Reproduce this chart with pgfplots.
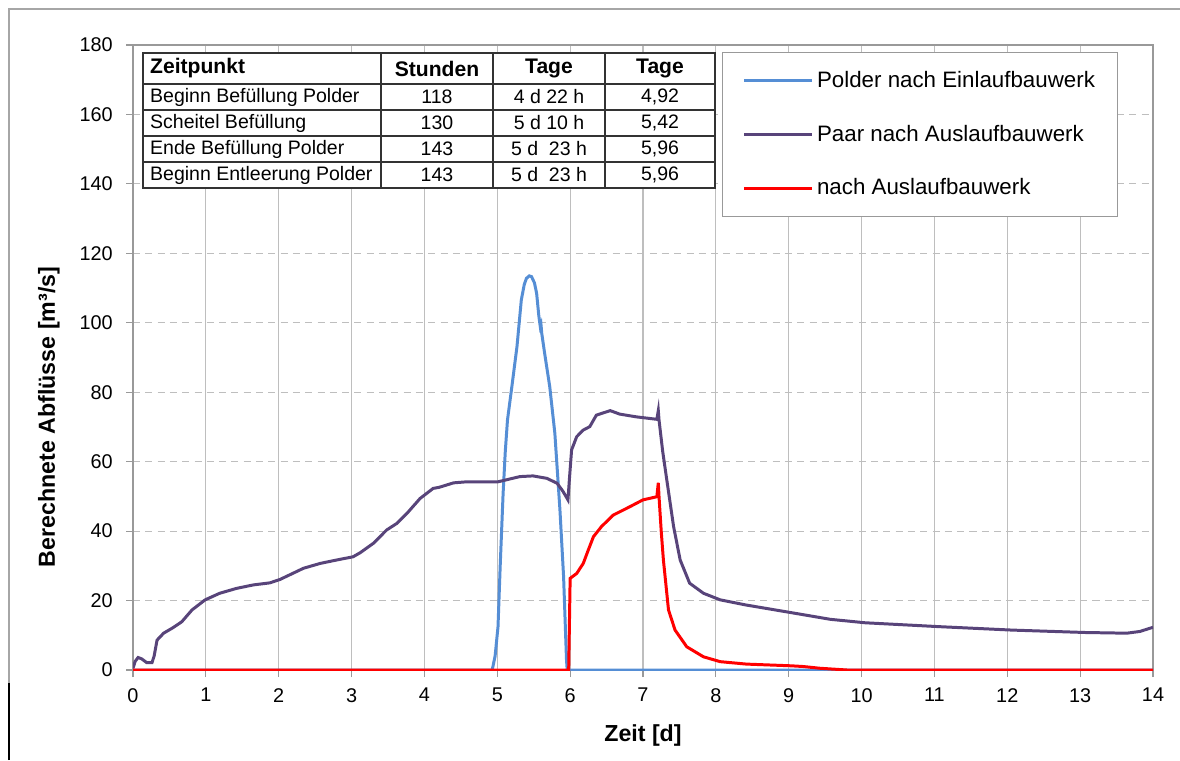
\documentclass[border=0pt]{standalone}
\usepackage{pgfplots}
\pgfplotsset{compat=1.18}
\usepackage{fontspec}
\setmainfont{Liberation Sans}
\definecolor{cblue}{RGB}{85,142,213}
\definecolor{cpurple}{RGB}{88,68,122}
\definecolor{cred}{RGB}{255,0,0}
\definecolor{cgrid}{RGB}{190,190,190}
\begin{document}
\begin{tikzpicture}
\useasboundingbox (0,0) rectangle (23.6,15.2);
\fill[white] (0,0) rectangle (23.6,15.2);
\draw[gray!70, line width=0.6pt] (0.18,1.54) -- (0.18,15.02) -- (23.6,15.02);
\draw[black, line width=1pt] (0.18,0) -- (0.18,1.54);
\begin{axis}[
  at={(2.66cm,1.8cm)}, anchor=south west,
  scale only axis, width=20.4cm, height=12.5cm,
  xmin=0, xmax=14, ymin=0, ymax=180,
  xtick={0,1,...,14}, ytick={0,20,...,180},
  xmajorgrids, ymajorgrids,
  x grid style={cgrid, line width=0.6pt},
  y grid style={cgrid, line width=0.6pt, dash pattern=on 4pt off 3pt},
  axis line style={gray!80, line width=0.6pt},
  tick style={gray!80, line width=0.6pt},
  tick align=outside, major tick length=0.14cm,
  xtick pos=bottom, ytick pos=left,
  ticklabel style={font=\fontsize{11.3}{13}\selectfont},
  yticklabel style={xshift=-0.14cm},
  xticklabel style={yshift=-0.1cm},
  /pgf/number format/assume math mode=true,
  xlabel={Zeit [d]}, ylabel={Berechnete Abflüsse [m³/s]},
  label style={font=\bfseries\fontsize{13.2}{15}\selectfont},
  xlabel style={at={(axis description cs:0.5,-0.104)}, anchor=center},
  ylabel style={at={(axis description cs:-0.0824,0.405)}, anchor=center},
  legend cell align=left,
  legend image code/.code={\path (0cm,0cm) -- (0.7cm,0cm); \draw[#1] (0.7cm,0cm) -- (1.36cm,0cm);},
  legend style={at={(axis description cs:0.5775,0.9888)}, anchor=north west,
    draw=gray!80, line width=0.6pt, fill=white, inner xsep=0.4cm, inner ysep=0.3cm,
    row sep=0.56cm, font=\fontsize{12.7}{15}\selectfont},
]
\addplot[cblue, line width=1.7pt] coordinates {
(0,0)(4.93,0)(4.97,4)(5.01,12.5)(5.04,30)(5.08,50.9)(5.11,63)(5.14,72)(5.20,81.6)(5.27,93.1)(5.33,106.6)(5.37,111)(5.40,112.8)(5.44,113.5)(5.47,113.3)(5.51,111.5)(5.54,108.5)(5.57,102)(5.59,98.9)(5.60,99.5)(5.61,97)(5.65,91.2)(5.72,81.6)(5.79,68.2)(5.86,46.1)(5.91,26.9)(5.95,2.9)(5.96,0)(14,0)};
\addlegendentry{\makebox[5.54cm][l]{Polder nach Einlaufbauwerk}}
\addplot[cpurple, line width=1.7pt] coordinates {
(0,0.5)(0.03,2.5)(0.07,3.6)(0.12,3.2)(0.19,2.1)(0.26,2.1)(0.29,4)(0.33,8.6)(0.42,10.6)(0.55,12.2)(0.67,13.9)(0.81,17.3)(0.99,20.2)(1.19,22.1)(1.42,23.5)(1.65,24.5)(1.88,25.1)(2.02,26.1)(2.34,29.3)(2.57,30.7)(2.80,31.7)(3.02,32.6)(3.12,33.8)(3.30,36.5)(3.48,40.3)(3.62,42.2)(3.76,45.1)(3.94,49.4)(4.12,52.3)(4.20,52.6)(4.40,53.9)(4.58,54.2)(5.01,54.2)(5.31,55.7)(5.49,55.9)(5.68,55.2)(5.82,53.8)(5.90,51.5)(5.97,49.0)(5.99,55)(6.02,63.4)(6.09,67.2)(6.18,69.1)(6.27,70.1)(6.36,73.4)(6.55,74.7)(6.68,73.7)(6.91,72.9)(7.19,72.2)(7.21,74.7)(7.22,72)(7.27,63)(7.32,55.7)(7.42,41.3)(7.51,31.7)(7.64,25.0)(7.83,22.1)(8.06,20.2)(8.42,18.7)(9.04,16.5)(9.57,14.6)(10.05,13.6)(11.05,12.5)(12.06,11.5)(13.07,10.8)(13.64,10.6)(13.82,11.1)(14.0,12.3)};
\addlegendentry{\makebox[5.54cm][l]{Paar nach Auslaufbauwerk}}
\addplot[cred, line width=1.7pt] coordinates {
(0,0)(5.98,0)(6.0,26.4)(6.09,27.8)(6.18,30.7)(6.25,34.6)(6.32,38.4)(6.43,41.3)(6.59,44.6)(6.78,46.6)(7.00,49.0)(7.19,49.9)(7.21,53.9)(7.22,49.9)(7.25,40)(7.28,31.7)(7.35,17.3)(7.44,11.5)(7.60,6.7)(7.83,3.8)(8.06,2.4)(8.42,1.7)(9.04,1.2)(9.2,1.0)(9.43,0.5)(9.8,0)(14,0)};
\addlegendentry{\makebox[5.54cm][l]{nach Auslaufbauwerk}}
\end{axis}
\begin{scope}[font=\fontsize{11.1}{13}\selectfont]
\fill[white] (2.86,11.44) rectangle (14.30,14.14);
\draw[black!80, line width=0.8pt] (2.86,11.44) rectangle (14.30,14.14);
\foreach \y in {13.52,13.00,12.48,11.96} \draw[black!80, line width=0.8pt] (2.86,\y) -- (14.30,\y);
\foreach \x in {7.62,9.86,12.10} \draw[black!80, line width=0.8pt] (\x,11.44) -- (\x,14.14);
\node[anchor=west, font=\bfseries\fontsize{12}{14}\selectfont] at (2.88,13.83) {Zeitpunkt};
\node[font=\bfseries\fontsize{12}{14}\selectfont] at (8.74,13.83) {Stunden};
\node[font=\bfseries\fontsize{12}{14}\selectfont] at (10.98,13.83) {Tage};
\node[font=\bfseries\fontsize{12}{14}\selectfont] at (13.20,13.83) {Tage};
\node[anchor=west] at (2.88,13.26) {Beginn Befüllung Polder};
\node[anchor=west] at (2.88,12.74) {Scheitel Befüllung};
\node[anchor=west] at (2.88,12.22) {Ende Befüllung Polder};
\node[anchor=west] at (2.88,11.70) {Beginn Entleerung Polder};
\node at (8.74,13.26) {118};
\node at (8.74,12.74) {130};
\node at (8.74,12.22) {143};
\node at (8.74,11.70) {143};
\node at (10.98,13.26) {4 d 22 h};
\node at (10.98,12.74) {5 d 10 h};
\node at (10.98,12.22) {5 d\ \ 23 h};
\node at (10.98,11.70) {5 d\ \ 23 h};
\node at (13.20,13.26) {4,92};
\node at (13.20,12.74) {5,42};
\node at (13.20,12.22) {5,96};
\node at (13.20,11.70) {5,96};
\end{scope}
\end{tikzpicture}
\end{document}
